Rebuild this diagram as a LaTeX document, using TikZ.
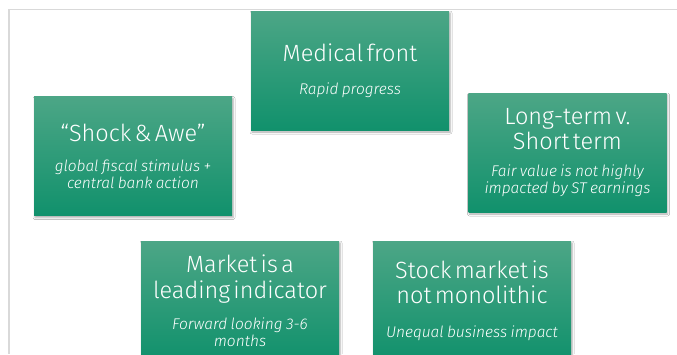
\documentclass[tikz,border=0pt]{standalone}
\usepackage{fontspec}
\setmainfont{Fira Sans}[UprightFont={* Light}, ItalicFont={* Light Italic}]
\usetikzlibrary{shadows.blur}

\definecolor{cardtop}{RGB}{76,166,134}
\definecolor{cardmid}{RGB}{30,159,121}
\definecolor{cardbot}{RGB}{17,145,108}
\definecolor{framegray}{RGB}{217,217,217}

\newcommand{\cardhead}{\fontsize{23.5}{25.5}\selectfont}
\newcommand{\cardnote}{\fontsize{15.5}{17}\selectfont\itshape}

\tikzset{
  card/.style={
    rectangle, minimum width=198pt, minimum height=119pt,
    inner sep=0pt, text width=196pt, align=center,
    top color=cardtop, middle color=cardmid, bottom color=cardbot,
    text=white,
    blur shadow={shadow xshift=1pt, shadow yshift=-2pt,
      shadow blur radius=2pt, shadow opacity=35}
  },
  frameline/.style={draw=framegray, line width=1.4pt}
}

\begin{document}
\begin{tikzpicture}[x=1pt, y=-1pt]
  \useasboundingbox (0,0) rectangle (677,354);
  \clip (0,0) rectangle (677,354);
  \fill[white] (0,0) rectangle (677,354);

  % slide frame
  \coordinate (ftop) at (677,9.5);
  \coordinate (fcorner) at (9,9.5);
  \coordinate (fbottom) at (9,354);
  \draw[frameline] (ftop) -- (fcorner) -- (fbottom);

  % cards
  \node[card] (med) at (350,70.5)
    {{\cardhead Medical front\par}\vspace{16pt}{\cardnote Rapid progress\par}};
  \node[card] (shock) at (133,156)
    {{\cardhead “Shock \& Awe”\par}\vspace{13pt}{\cardnote global fiscal stimulus +\\ central bank action\par}};
  \node[card] (long) at (567.5,152.5)
    {{\cardhead Long-term v.\\ Short term\par}\vspace{10pt}{\cardnote Fair value is not highly\\ impacted by ST earnings\par}};
  \node[card] (market) at (240,300.5)
    {{\cardhead Market is a\\ leading indicator\par}\vspace{14pt}{\cardnote Forward looking 3-6\\ months\par}};
  \node[card] (stock) at (472,300.5)
    {{\cardhead Stock market is\\ not monolithic\par}\vspace{17pt}{\cardnote Unequal business impact\par}};
\end{tikzpicture}
\end{document}
